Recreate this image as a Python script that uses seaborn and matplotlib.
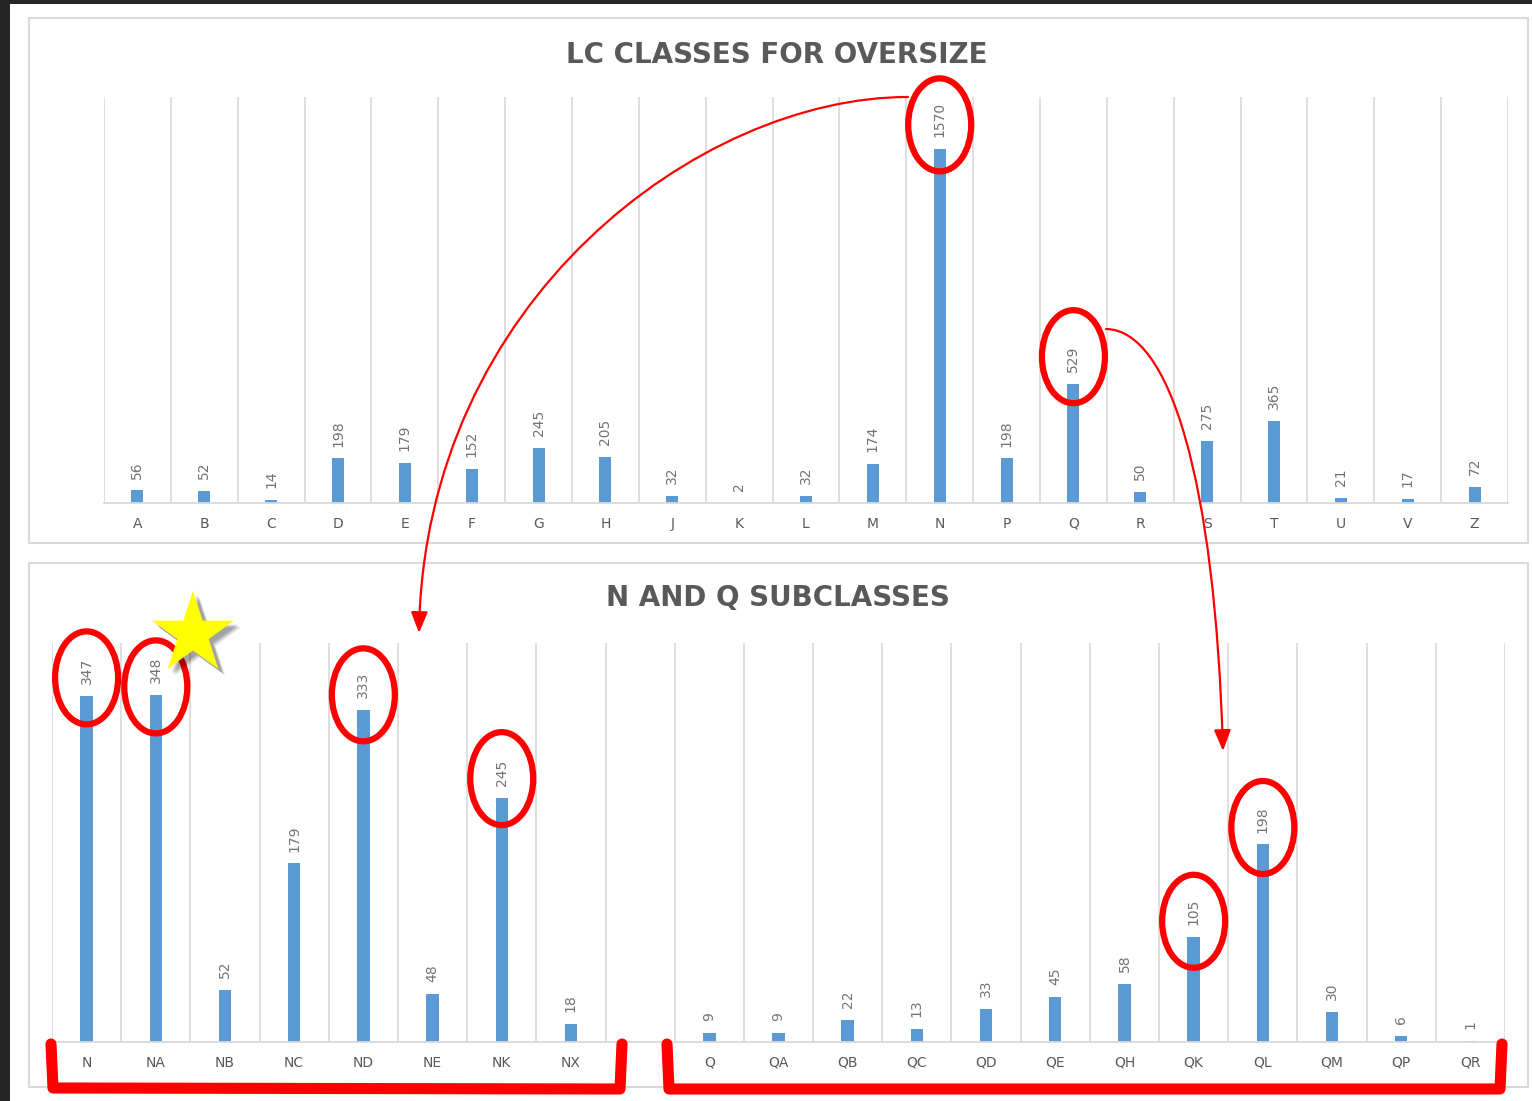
import numpy as np
import pandas as pd
import matplotlib
matplotlib.use("Agg")
import matplotlib.pyplot as plt
import seaborn as sns
from matplotlib.patches import Rectangle, Ellipse, FancyArrowPatch, Polygon
from matplotlib.path import Path
from matplotlib.lines import Line2D

# ---------------- data ----------------
classes = ["A", "B", "C", "D", "E", "F", "G", "H", "J", "K", "L",
           "M", "N", "P", "Q", "R", "S", "T", "U", "V", "Z"]
class_counts = [56, 52, 14, 198, 179, 152, 245, 205, 32, 2, 32,
                174, 1570, 198, 529, 50, 275, 365, 21, 17, 72]

sub_n = ["N", "NA", "NB", "NC", "ND", "NE", "NK", "NX"]
sub_n_counts = [347, 348, 52, 179, 333, 48, 245, 18]
sub_q = ["Q", "QA", "QB", "QC", "QD", "QE", "QH", "QK", "QL", "QM", "QP", "QR"]
sub_q_counts = [9, 9, 22, 13, 33, 45, 58, 105, 198, 30, 6, 1]
gap_label = " "

title_top = "LC CLASSES FOR OVERSIZE"
title_bottom = "N AND Q SUBCLASSES"

# highlighted bars (category, vertical offset of circle above bar top in px)
highlight_top = [("N", 24), ("Q", 27)]
highlight_bottom = [("N", 18), ("NA", 8), ("ND", 15), ("NK", 19), ("QK", 16), ("QL", 17)]

# ---------------- style ----------------
W, H = 1532, 1101
BAR = "#5b9bd5"
GRID = "#d9d9d9"
TXT = "#595959"
LBL = "#737373"
RED = "#ff0000"

def fx(x):
    return x / W

def fy(y):
    return 1 - y / H

fig = plt.figure(figsize=(W / 100, H / 100), dpi=100, facecolor="#262626")

# white page and chart frames
fig.add_artist(Rectangle((fx(10), 0), 1 - fx(10), fy(4), transform=fig.transFigure,
                         facecolor="white", edgecolor="none", zorder=-3))
fig.add_artist(Rectangle((fx(29), fy(543)), fx(1528) - fx(29), fy(18) - fy(543),
                         transform=fig.transFigure, facecolor="white",
                         edgecolor=GRID, lw=1.5, zorder=-2))
fig.add_artist(Rectangle((fx(29), fy(1087)), fx(1528) - fx(29), fy(563) - fy(1087),
                         transform=fig.transFigure, facecolor="white",
                         edgecolor=GRID, lw=1.5, zorder=-2))

ax1 = fig.add_axes([fx(104), fy(503), fx(1508) - fx(104), fy(97) - fy(503)])
ax2 = fig.add_axes([fx(52), fy(1042), fx(1505) - fx(52), fy(643) - fy(1042)])

df_top = pd.DataFrame({"cat": classes, "val": class_counts})
df_bot = pd.DataFrame({"cat": sub_n + sub_q, "val": sub_n_counts + sub_q_counts})
order_bot = sub_n + [gap_label] + sub_q

sns.barplot(data=df_top, x="cat", y="val", order=classes, ax=ax1, color=BAR,
            saturation=1, width=0.18, errorbar=None)
sns.barplot(data=df_bot, x="cat", y="val", order=order_bot, ax=ax2, color=BAR,
            saturation=1, width=0.18, errorbar=None)

for ax, n, ymax in [(ax1, len(classes), 1800), (ax2, len(order_bot), 400)]:
    ax.set_facecolor("none")
    ax.set_xlim(-0.5, n - 0.5)
    ax.set_ylim(0, ymax)
    ax.set_xlabel("")
    ax.set_ylabel("")
    ax.set_yticks([])
    for s in ["top", "left", "right"]:
        ax.spines[s].set_visible(False)
    ax.spines["bottom"].set_color(GRID)
    ax.spines["bottom"].set_linewidth(1.3)
    ax.set_xticks(np.arange(n + 1) - 0.5, minor=True)
    ax.tick_params(axis="x", which="both", length=0)
    ax.tick_params(axis="x", which="major", pad=10, labelsize=10, labelcolor=TXT)
    ax.set_axisbelow(True)
    ax.grid(which="minor", axis="x", color=GRID, lw=1.2)
    ax.grid(which="major", visible=False)
    ax.grid(which="minor", axis="y", visible=False)
    for c in ax.containers:
        ax.bar_label(c, rotation=90, padding=8.5, fontsize=10, color=LBL)

fig.text(fx(777), fy(55), title_top, ha="center", va="center", fontsize=20,
         fontweight="bold", color=TXT)
fig.text(fx(778), fy(598), title_bottom, ha="center", va="center", fontsize=20,
         fontweight="bold", color=TXT)

# ---------------- annotations ----------------
def bar_top_px(ax, order, values_map, cat):
    i = order.index(cat)
    d = ax.transData.transform((i, values_map[cat]))
    return d[0], H - d[1]

top_map = dict(zip(classes, class_counts))
bot_map = dict(zip(sub_n + sub_q, sub_n_counts + sub_q_counts))

for ax, order, vmap, hl in [(ax1, classes, top_map, highlight_top),
                            (ax2, order_bot, bot_map, highlight_bottom)]:
    for cat, dy in hl:
        px, py = bar_top_px(ax, order, vmap, cat)
        fig.add_artist(Ellipse((fx(px), fy(py - dy)), 63 / W, 93 / H,
                               transform=fig.transFigure, fill=False,
                               edgecolor=RED, lw=4.5, zorder=6))

def curve(p0, p1, p2, p3):
    verts = [(fx(x), fy(y)) for x, y in (p0, p1, p2, p3)]
    return Path(verts, [Path.MOVETO, Path.CURVE4, Path.CURVE4, Path.CURVE4])

for pts in [((908, 97), (700, 97), (425, 300), (419, 633)),
            ((1106, 329), (1170, 330), (1215, 480), (1223, 751))]:
    fig.add_artist(FancyArrowPatch(path=curve(*pts), transform=fig.transFigure,
                                   arrowstyle="-|>,head_length=0.8,head_width=0.32",
                                   mutation_scale=16, color=RED, lw=1.6, zorder=6))

# star with soft shadow
def star(cx, cy, R, r):
    pts = []
    for k in range(10):
        ang = np.deg2rad(-90 + 36 * k)
        rad = R if k % 2 == 0 else r
        pts.append((fx(cx + rad * np.cos(ang)), fy(cy + rad * np.sin(ang))))
    return pts

for off, a in [(7, 0.08), (6, 0.10), (5, 0.12), (4, 0.12)]:
    fig.add_artist(Polygon(star(193 + off, 634 + off, 43, 16.5), closed=True,
                           transform=fig.transFigure, facecolor="black",
                           edgecolor="none", alpha=a, zorder=6))
fig.add_artist(Polygon(star(193, 634, 43, 16.5), closed=True, transform=fig.transFigure,
                       facecolor="#ffff00", edgecolor="none", zorder=7))

# brackets under the two subgroups
for xs, ys in [([51, 53, 620, 622], [1044, 1088, 1089, 1044]),
               ([667, 669, 1500, 1502], [1044, 1089, 1089, 1044])]:
    fig.add_artist(Line2D([fx(x) for x in xs], [fy(y) for y in ys],
                          transform=fig.transFigure, color=RED, lw=8,
                          solid_capstyle="round", solid_joinstyle="round", zorder=6))

fig.savefig("out.png", dpi=100, facecolor=fig.get_facecolor())
